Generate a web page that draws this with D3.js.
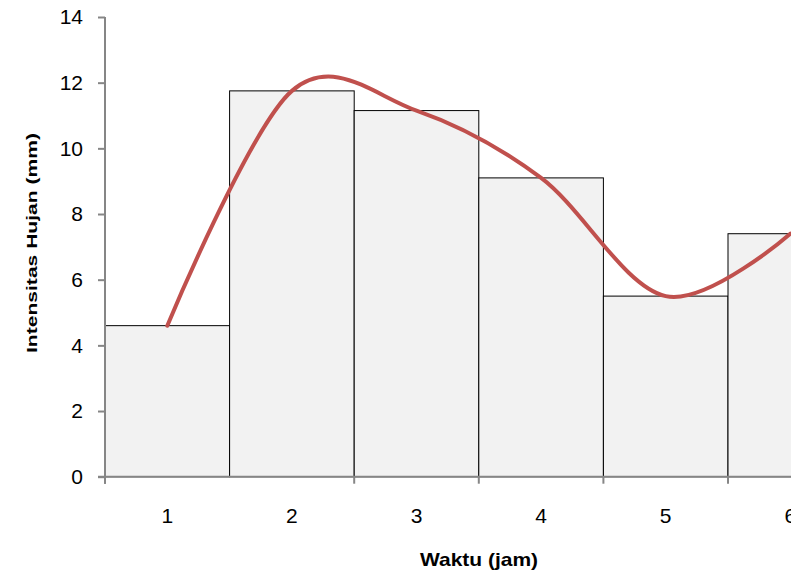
<!DOCTYPE html>
<html>
<head>
<meta charset="utf-8">
<script src="https://cdn.jsdelivr.net/npm/d3@7"></script>
<style>
  html, body { margin: 0; padding: 0; background: #ffffff; }
  svg { display: block; }
</style>
</head>
<body>
<svg id="chart" width="791" height="577"></svg>
<script>
// Hourly rainfall intensity (mm) per hour
const categories = ["1", "2", "3", "4", "5", "6"];
const intensity = [4.6, 11.75, 11.15, 9.1, 5.5, 7.4];
const yTicks = [0, 2, 4, 6, 8, 10, 12, 14];
// category boundaries that carry a tick mark on the x axis
const xTickBoundaries = [0, 2, 3, 4, 5, 6];

const svg = d3.select("#chart");
const plotLeft = 105, plotTop = 17, plotBottom = 476.7;
const bandW = 124.6;

const x = d3.scaleBand()
  .domain(categories)
  .range([plotLeft, plotLeft + bandW * categories.length])
  .paddingInner(0).paddingOuter(0);

const y = d3.scaleLinear().domain([0, 14]).range([plotBottom, plotTop]);

const axisColor = "#868686";

// histogram bars
svg.append("g").selectAll("rect")
  .data(categories)
  .join("rect")
  .attr("x", d => x(d))
  .attr("y", (d, i) => y(intensity[i]))
  .attr("width", x.bandwidth())
  .attr("height", (d, i) => y(0) - y(intensity[i]))
  .attr("fill", "#f2f2f2")
  .attr("stroke", "#000")
  .attr("stroke-width", 1);

// y axis
const yAxis = svg.append("g")
  .attr("transform", `translate(${plotLeft},0)`)
  .call(d3.axisLeft(y).tickValues(yTicks).tickSize(7).tickPadding(15).tickFormat(d3.format("d")));
yAxis.select(".domain").attr("stroke", axisColor).attr("stroke-width", 2)
  .attr("d", `M0,${plotTop}V${plotBottom + 7}`);
yAxis.selectAll(".tick line").attr("stroke", axisColor).attr("stroke-width", 2);
yAxis.selectAll(".tick text")
  .attr("fill", "#000")
  .style("font-family", "'Liberation Sans', Arial, sans-serif")
  .style("font-size", "21px");

// x axis line and tick marks at band boundaries
const xAxisG = svg.append("g");
xAxisG.append("line")
  .attr("x1", plotLeft - 7).attr("x2", 791)
  .attr("y1", plotBottom).attr("y2", plotBottom)
  .attr("stroke", axisColor).attr("stroke-width", 2);
xAxisG.selectAll("line.tick")
  .data(xTickBoundaries)
  .join("line")
  .attr("class", "tick")
  .attr("x1", d => plotLeft + d * x.step())
  .attr("x2", d => plotLeft + d * x.step())
  .attr("y1", plotBottom).attr("y2", plotBottom + 7)
  .attr("stroke", axisColor).attr("stroke-width", 2);
xAxisG.selectAll("text")
  .data(categories)
  .join("text")
  .attr("x", d => x(d) + x.bandwidth() / 2)
  .attr("y", 523)
  .attr("text-anchor", "middle")
  .attr("fill", "#000")
  .style("font-family", "'Liberation Sans', Arial, sans-serif")
  .style("font-size", "21px")
  .text(d => d);

// smoothed intensity curve through the bar tops
const line = d3.line()
  .x((d, i) => x(categories[i]) + x.bandwidth() / 2)
  .y(d => y(d))
  .curve(d3.curveCardinal.tension(0));
svg.append("path")
  .datum(intensity)
  .attr("d", line)
  .attr("fill", "none")
  .attr("stroke", "#c0504d")
  .attr("stroke-width", 4)
  .attr("stroke-linecap", "round");

// axis titles
svg.append("text")
  .attr("x", 479).attr("y", 566)
  .attr("text-anchor", "middle")
  .attr("textLength", 118)
  .attr("lengthAdjust", "spacingAndGlyphs")
  .attr("fill", "#000")
  .style("font-family", "'Liberation Sans', Arial, sans-serif")
  .style("font-size", "19px")
  .style("font-weight", "bold")
  .text("Waktu (jam)");

svg.append("text")
  .attr("transform", "translate(37,243) rotate(-90)")
  .attr("text-anchor", "middle")
  .attr("textLength", 220)
  .attr("lengthAdjust", "spacingAndGlyphs")
  .attr("fill", "#000")
  .style("font-family", "'Liberation Sans', Arial, sans-serif")
  .style("font-size", "15px")
  .style("font-weight", "bold")
  .text("Intensitas Hujan (mm)");
</script>
</body>
</html>
